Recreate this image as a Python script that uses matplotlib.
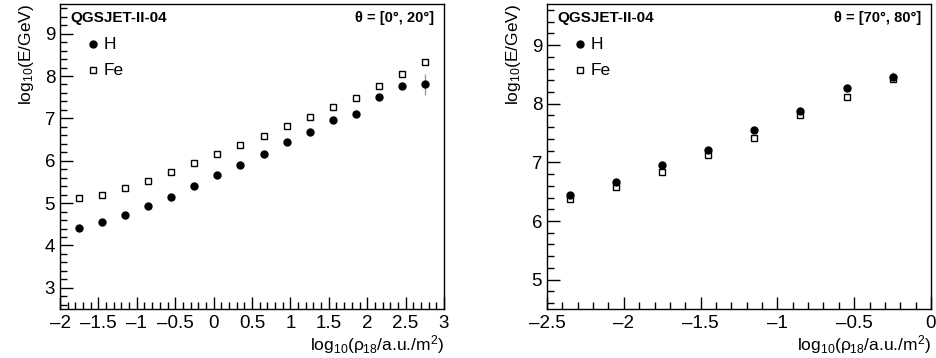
import matplotlib
matplotlib.use("Agg")
import matplotlib.pyplot as plt
from matplotlib.ticker import MultipleLocator, FuncFormatter

plt.rcParams['font.family'] = ['Liberation Sans', 'DejaVu Sans']
plt.rcParams['mathtext.fontset'] = 'custom'
plt.rcParams['mathtext.rm'] = 'Liberation Sans'
plt.rcParams['mathtext.it'] = 'Liberation Sans'

# left panel: theta = [0, 20] deg
x_left = [-1.75, -1.45, -1.15, -0.85, -0.55, -0.25, 0.05, 0.35,
          0.65, 0.95, 1.25, 1.55, 1.85, 2.15, 2.45, 2.75]
h_left = [4.42, 4.55, 4.71, 4.92, 5.15, 5.40, 5.66, 5.91,
          6.16, 6.44, 6.69, 6.95, 7.10, 7.51, 7.77, 7.80]
h_left_err = [0, 0, 0, 0, 0, 0, 0, 0, 0, 0, 0, 0, 0, 0, 0, 0.24]
fe_left = [5.11, 5.20, 5.35, 5.53, 5.74, 5.94, 6.15, 6.36,
           6.58, 6.81, 7.03, 7.28, 7.49, 7.77, 8.04, 8.33]

# right panel: theta = [70, 80] deg
x_right = [-2.35, -2.05, -1.75, -1.45, -1.15, -0.85, -0.55, -0.25]
h_right = [6.45, 6.66, 6.95, 7.21, 7.55, 7.87, 8.26, 8.46]
h_right_err = [0, 0, 0, 0, 0, 0, 0, 0.08]
fe_right = [6.38, 6.58, 6.84, 7.12, 7.41, 7.80, 8.12, 8.42]

fig = plt.figure(figsize=(9.36, 3.58), dpi=100)
ax1 = fig.add_axes([60 / 936, 49 / 358, 384 / 936, 305 / 358])
ax2 = fig.add_axes([547 / 936, 49 / 358, 384 / 936, 305 / 358])

fmt = FuncFormatter(lambda v, p: ('%g' % v).replace('-', '\u2013'))


def draw_panel(ax, x, h, herr, fe, xlim, ylim, theta_txt):
    ax.errorbar(x, h, yerr=herr, fmt='none', ecolor='#999999', elinewidth=1,
                capsize=0, zorder=2)
    ax.plot(x, fe, 's', ms=4.6, mfc='white', mec='black', mew=1, zorder=3)
    ax.plot(x, h, 'o', ms=5, color='black', zorder=4)
    ax.set_xlim(*xlim)
    ax.set_ylim(*ylim)
    ax.xaxis.set_major_locator(MultipleLocator(0.5))
    ax.xaxis.set_minor_locator(MultipleLocator(0.1))
    ax.yaxis.set_major_locator(MultipleLocator(1))
    ax.yaxis.set_minor_locator(MultipleLocator(0.2))
    ax.xaxis.set_major_formatter(fmt)
    ax.yaxis.set_major_formatter(fmt)
    ax.tick_params(which='both', direction='in', top=False, right=False,
                   labelsize=13.5, width=1)
    ax.tick_params(which='major', length=9)
    ax.tick_params(which='minor', length=5)
    ax.tick_params(axis='x', pad=4)
    for s in ax.spines.values():
        s.set_linewidth(1)
    ax.set_xlabel(r'log$_{10}$($\rho_{18}$/a.u./m$^2$)', fontsize=12.5,
                  loc='right', labelpad=1)
    ax.set_ylabel('log$_{10}$(E/GeV)', fontsize=12.5, loc='top', labelpad=6)
    ax.text(0.027, 0.955, 'QGSJET-II-04', transform=ax.transAxes,
            fontsize=11, fontweight='bold', ha='left', va='center')
    ax.text(0.975, 0.955, theta_txt, transform=ax.transAxes,
            fontsize=10.5, fontweight='bold', ha='right', va='center')
    # legend
    ax.plot([0.086], [0.868], 'o', ms=5, color='black', transform=ax.transAxes,
            clip_on=False)
    ax.plot([0.086], [0.783], 's', ms=4.6, mfc='white', mec='black', mew=1,
            transform=ax.transAxes, clip_on=False)
    ax.text(0.113, 0.868, 'H', transform=ax.transAxes, fontsize=12.5,
            va='center')
    ax.text(0.113, 0.783, 'Fe', transform=ax.transAxes, fontsize=12.5,
            va='center')


draw_panel(ax1, x_left, h_left, h_left_err, fe_left, (-2, 3), (2.5, 9.7),
           r'θ = [0°, 20°]')
draw_panel(ax2, x_right, h_right, h_right_err, fe_right, (-2.5, 0), (4.5, 9.7),
           r'θ = [70°, 80°]')

fig.savefig('out.png', dpi=100)
